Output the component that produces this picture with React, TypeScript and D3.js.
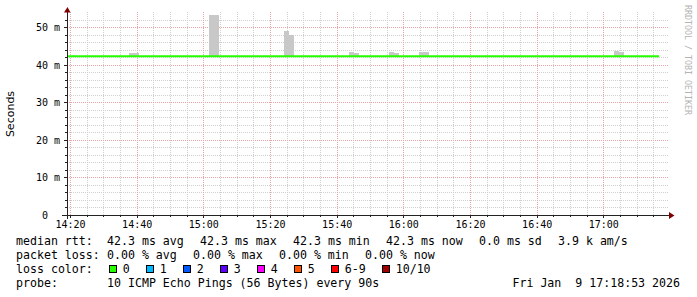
import React from "react";
import * as d3 from "d3";

// ---- data ----
const yTicks = [0, 10, 20, 30, 40, 50];
const yTickLabels = ["0  ", "10 m", "20 m", "30 m", "40 m", "50 m"];
const xTickLabels = ["14:20", "14:40", "15:00", "15:20", "15:40", "16:00", "16:20", "16:40", "17:00"];

const timeStart = "14:19:06";
const timeEnd = "17:19:06";

// smoke (min..max of the pings), 90 s steps
const smokeTimes = [
  "14:37:42", "14:39:12",
  "15:01:42", "15:03:12",
  "15:24:12", "15:25:42",
  "15:43:42", "15:45:12",
  "15:55:42", "15:57:12",
  "16:04:42", "16:06:12",
  "17:03:12", "17:04:42",
];
const smokeMax = [43.2, 43.2, 53.3, 53.3, 49.1, 48.0, 43.5, 43.1, 43.5, 43.1, 43.5, 43.5, 43.7, 43.4];
const smokeMin = [42.2, 42.2, 42.2, 42.2, 42.2, 42.2, 42.2, 42.2, 42.2, 42.2, 42.2, 42.2, 42.2, 42.2];

const medianTimes = ["14:19:06", "17:16:42"];
const medianValues = [42.3, 42.3];

const rttStats = ["42.3 ms avg", "42.3 ms max", "42.3 ms min", "42.3 ms now", "0.0 ms sd", "3.9 k am/s"];
const lossStats = ["0.00 % avg", "0.00 % max", "0.00 % min", "0.00 % now"];
const lossLabels = ["0", "1", "2", "3", "4", "5", "6-9", "10/10"];
const lossColors = ["#26ff00", "#00b8ff", "#0059ff", "#5e00ff", "#ff00ff", "#ff5500", "#ff0000", "#a10000"];
const probeText = "10 ICMP Echo Pings (56 Bytes) every 90s";
const dateText = "Fri Jan  9 17:18:53 2026";

// ---- helpers ----
const parseT = (s: string) => {
  const [h, m, sec] = s.split(":").map(Number);
  return new Date(2026, 0, 9, h, m, sec || 0);
};

const W = 697;
const H = 297;
const X0 = 67;
const X1 = 667;
const Y0 = 215;
const Y1 = 15;
const STEP = 90; // seconds

const MONO = "'DejaVu Sans Mono', monospace";
const CW = 7; // legend char width

export default function App() {
  const x = d3.scaleTime().domain([parseT(timeStart), parseT(timeEnd)]).range([X0, X1]);
  const y = d3.scaleLinear().domain([0, 53.333]).range([Y0, Y1]);

  const majorX = xTickLabels.map(parseT);
  const majorSet = new Set(majorX.map((d) => d.getTime()));
  const minorX = x.ticks(d3.timeMinute.every(5)!).filter((d) => !majorSet.has(d.getTime()));

  const minorY = d3.range(2, 53, 2).filter((v) => v % 10 !== 0);
  const majorY = yTicks.filter((v) => v > 0);

  const line = d3
    .line<[Date, number]>()
    .x((d) => x(d[0]))
    .y((d) => y(d[1]));
  const medianPts: [Date, number][] = medianTimes.map((t, i) => [parseT(t), medianValues[i]]);

  // legend positions
  const rttX: number[] = [];
  let cx = 107;
  rttStats.forEach((s) => {
    rttX.push(cx);
    cx += s.length * CW + 16;
  });
  const lossX: number[] = [];
  cx = 107;
  lossStats.forEach((s) => {
    lossX.push(cx);
    cx += s.length * CW + 16;
  });
  const boxX: number[] = [];
  let bx = 108.7;
  lossLabels.forEach((s) => {
    boxX.push(bx);
    bx = bx + 14 + s.length * CW + 16;
  });

  const L1 = 245;
  const L2 = 259;
  const L3 = 273;
  const L4 = 287;

  return (
    <svg
      width={W}
      height={H}
      style={{ position: "fixed", left: 0, top: 0, background: "#fff" }}
      xmlns="http://www.w3.org/2000/svg"
    >
      <rect x={0} y={0} width={W} height={H} fill="#fff" />

      {/* minor grid */}
      <g stroke="#cfcfcf" strokeDasharray="1,1" shapeRendering="crispEdges" strokeWidth={1}>
        {minorX.map((d, i) => (
          <line key={"mx" + i} x1={Math.round(x(d)) + 0.5} x2={Math.round(x(d)) + 0.5} y1={Y0} y2={12} />
        ))}
        {minorY.map((v, i) => (
          <line key={"my" + i} x1={X0} x2={X1 + 1} y1={Math.round(y(v)) + 0.5} y2={Math.round(y(v)) + 0.5} />
        ))}
      </g>
      {/* major grid */}
      <g stroke="#eda6a6" strokeDasharray="1,1" shapeRendering="crispEdges" strokeWidth={1}>
        {majorX.map((d, i) => (
          <line key={"Mx" + i} x1={Math.round(x(d)) + 0.5} x2={Math.round(x(d)) + 0.5} y1={Y0} y2={12} />
        ))}
        {majorY.map((v, i) => (
          <line key={"My" + i} x1={X0} x2={X1 + 1} y1={Math.round(y(v)) + 0.5} y2={Math.round(y(v)) + 0.5} />
        ))}
      </g>

      {/* smoke */}
      <g fill="#c8c8c8" shapeRendering="crispEdges">
        {smokeTimes.map((t, i) => {
          const t0 = parseT(t);
          const t1 = new Date(t0.getTime() + STEP * 1000);
          const top = Math.max(y(smokeMax[i]), Y1);
          return (
            <rect
              key={"s" + i}
              x={x(t0)}
              width={x(t1) - x(t0)}
              y={top}
              height={y(smokeMin[i]) - top}
            />
          );
        })}
      </g>

      {/* median line */}
      <path d={line(medianPts) || ""} stroke="#26ff00" strokeWidth={2} fill="none" />

      {/* axes */}
      <g stroke="#222" shapeRendering="crispEdges">
        <line x1={62} x2={671} y1={Y0 + 0.5} y2={Y0 + 0.5} />
        <line x1={X0 + 0.5} x2={X0 + 0.5} y1={219} y2={11} />
        {yTicks.map((v, i) => (
          <line key={"yt" + i} x1={64} x2={X0} y1={Math.round(y(v)) + 0.5} y2={Math.round(y(v)) + 0.5} />
        ))}
        {minorY.map((v, i) => (
          <line key={"ytm" + i} x1={65} x2={X0} y1={Math.round(y(v)) + 0.5} y2={Math.round(y(v)) + 0.5} />
        ))}
        {majorX.map((d, i) => (
          <line key={"xt" + i} x1={Math.round(x(d)) + 0.5} x2={Math.round(x(d)) + 0.5} y1={Y0} y2={Y0 + 3} />
        ))}
        {minorX.map((d, i) => (
          <line key={"xtm" + i} x1={Math.round(x(d)) + 0.5} x2={Math.round(x(d)) + 0.5} y1={Y0} y2={Y0 + 2} />
        ))}
      </g>
      <path d={`M64,12.5 L70.5,12.5 L67.5,7 Z`} fill="#800000" />
      <path d={`M669,212 L669,219 L674.5,215.5 Z`} fill="#800000" />

      {/* y tick labels */}
      <g fontFamily={MONO} fontSize={10} fill="#000" textAnchor="end">
        {yTicks.map((v, i) => (
          <text key={"yl" + i} x={60} y={y(v) + 3.6} style={{ whiteSpace: "pre" }} xmlSpace="preserve">
            {yTickLabels[i]}
          </text>
        ))}
      </g>
      {/* x tick labels */}
      <g fontFamily={MONO} fontSize={10} fill="#000" textAnchor="middle">
        {majorX.map((d, i) => (
          <text key={"xl" + i} x={x(d) + 0.5} y={228}>
            {xTickLabels[i]}
          </text>
        ))}
      </g>

      {/* y title */}
      <text
        transform="translate(14.3,114) rotate(-90)"
        textAnchor="middle"
        fontFamily="'DejaVu Sans', sans-serif"
        fontSize={11}
        fill="#000"
      >
        Seconds
      </text>

      {/* watermark */}
      <text
        transform="translate(685,5) rotate(90)"
        fontFamily={MONO}
        fontSize={8.3}
        fill="#b4b4b4"
      >
        RRDTOOL / TOBI OETIKER
      </text>

      {/* legend */}
      <g fontFamily={MONO} fontSize={11.6} fill="#000" style={{ whiteSpace: "pre" }}>
        <text x={16} y={L1}>median rtt:</text>
        {rttStats.map((s, i) => (
          <text key={"r" + i} x={rttX[i]} y={L1}>
            {s}
          </text>
        ))}
        <text x={16} y={L2}>packet loss:</text>
        {lossStats.map((s, i) => (
          <text key={"l" + i} x={lossX[i]} y={L2}>
            {s}
          </text>
        ))}
        <text x={16} y={L3}>loss color:</text>
        {lossLabels.map((s, i) => (
          <g key={"c" + i}>
            <rect x={boxX[i] + 0.5} y={265.5} width={7} height={7} fill={lossColors[i]} stroke="#000" strokeWidth={1} shapeRendering="crispEdges" />
            <text x={boxX[i] + 14} y={L3}>
              {s}
            </text>
          </g>
        ))}
        <text x={16} y={L4}>probe:</text>
        <text x={107} y={L4}>{probeText}</text>
        <text x={680} y={L4} textAnchor="end" xmlSpace="preserve">
          {dateText}
        </text>
      </g>
    </svg>
  );
}
